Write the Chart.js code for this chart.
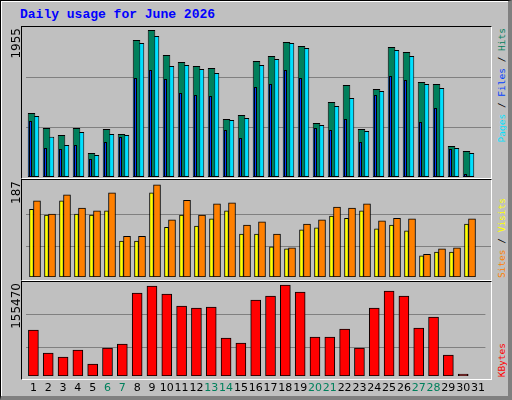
<!DOCTYPE html>
<html>
<head>
<meta charset="utf-8">
<script src="https://cdn.jsdelivr.net/npm/chart.js@4"></script>
<style>
  body { margin: 0; }
  #frame { position: relative; width: 512px; height: 400px; background: #c0c0c0; box-sizing: border-box;
           border: 1px solid #000; border-right: 4px solid #808080; border-bottom: 4px solid #808080; overflow: hidden; }
  #frame::before { content: ""; position: absolute; left: 0; top: 0; right: 0; bottom: 0; border-top: 1px solid #fff; border-left: 1px solid #fff; }
  .panel { position: absolute; left: 20px; width: 471px; box-sizing: border-box;
           border-top: 1px solid #000; border-left: 1px solid #000; border-right: 1px solid #fff; border-bottom: 1px solid #fff; }
  canvas { position: absolute; }
  .title { position: absolute; left: 19px; top: 6px; font: bold 13px "Liberation Mono", monospace; color: #0000ff; }
  .vl { position: absolute; writing-mode: vertical-rl; transform: rotate(180deg); white-space: nowrap; }
  .num { font: 12px "DejaVu Sans", sans-serif; color: #000; left: 8px; }
  .leg { font: 9.5px "DejaVu Sans Mono", monospace; left: 495px; color: #000; }
</style>
</head>
<body>
<div id="frame">
  <div class="title">Daily usage for June 2026</div>
  <div class="panel" style="top:25px;height:153px"></div>
  <div class="panel" style="top:178px;height:102px"></div>
  <div class="panel" style="top:280px;height:99px"></div>
  <canvas id="c1" width="469" height="150" style="left:21px;top:26px"></canvas>
  <canvas id="c2" width="469" height="99" style="left:21px;top:177px"></canvas>
  <canvas id="c3" width="469" height="123" style="left:21px;top:276px"></canvas>
  <div class="vl num" style="top:27px">1955</div>
  <div class="vl num" style="top:180px">187</div>
  <div class="vl num" style="top:282px">155470</div>
  <div class="vl leg" style="top:27px"><span style="color:#00e0ff">Pages</span> / <span style="color:#0040ff">Files</span> / <span style="color:#00805c">Hits</span></div>
  <div class="vl leg" style="top:197px"><span style="color:#ff8000">Sites</span> / <span style="color:#ffff00">Visits</span></div>
  <div class="vl leg" style="top:342px"><span style="color:#ff0000">KBytes</span></div>
</div>
<script>
const days = ['1','2','3','4','5','6','7','8','9','10','11','12','13','14','15','16','17','18','19','20','21','22','23','24','25','26','27','28','29','30','31'];
const weekends = ['6','7','13','14','20','21','27','28'];

const hits  = [834,639,547,639,313,626,560,1786,1916,1590,1499,1447,1421,756,808,1512,1577,1760,1707,704,978,1199,626,1147,1694,1629,1238,1212,404,339,0];
const pages = [795,525,417,587,287,560,547,1746,1838,1447,1460,1408,1356,743,769,1460,1538,1746,1681,678,925,1030,600,1121,1655,1577,1212,1160,378,313,0];
const files = [734,382,369,421,235,460,525,1290,1395,1277,1095,1069,1056,613,508,1173,1212,1395,1290,639,613,756,456,1069,1316,1264,717,899,365,39,0];

const visits = [128,117,144,119,117,125,68,68,159,94,117,96,110,125,81,81,57,53,89,93,115,111,125,91,98,87,40,47,47,100,0];
const sites  = [144,119,155,130,125,159,77,77,174,108,145,117,138,140,98,104,81,55,100,108,132,130,138,106,111,110,43,53,55,110,0];

const kbytes = [72238,36119,29838,40831,18845,43971,50253,130343,141336,128772,109929,106788,108358,59675,51823,119350,125632,142907,131914,61246,61246,73808,43971,106788,133484,125632,75379,92654,32978,3141,0];

const maxTicks = [1955, 187, 155470];
const gridTicks = [[639, 1303], [57, 119], [45541, 97364]];

function opts(max, grid, showX) {
  return {
    responsive: false, devicePixelRatio: 1, animation: false,
    layout: { padding: { left: 4, right: 0, top: 0, bottom: 0 } },
    plugins: { legend: { display: false }, tooltip: { enabled: false } },
    scales: {
      x: {
        display: showX,
        grid: { display: false, drawTicks: false }, border: { display: false },
        afterFit: s => { s.height = showX ? 24 : 0; },
        ticks: {
          padding: 6, autoSkip: false, maxRotation: 0,
          font: { family: 'DejaVu Sans', size: 11 },
          color: ctx => weekends.includes(days[ctx.index]) ? '#00805c' : '#000'
        }
      },
      y: {
        min: 0, max: max,
        afterFit: s => { s.width = 0; },
        afterBuildTicks: s => { s.ticks = grid.map(v => ({ value: v })); },
        ticks: { display: false },
        grid: { color: '#808080', lineWidth: 1, drawTicks: false },
        border: { display: false }
      }
    }
  };
}

const thinFiles = {
  id: 'thinFiles',
  afterDatasetsDraw(chart) {
    const meta = chart.getDatasetMeta(1);
    const y = chart.scales.y;
    const ctx = chart.ctx;
    ctx.save();
    meta.data.forEach((el, i) => {
      if (!files[i]) return;
      const left = el.x - el.width / 2;
      const top = Math.round(y.getPixelForValue(files[i])) + 0.5;
      const bottom = Math.round(y.getPixelForValue(0)) - 0.5;
      ctx.fillStyle = '#0040ff';
      ctx.strokeStyle = '#000';
      ctx.lineWidth = 1;
      ctx.fillRect(left - 3, top, 3, bottom - top);
      ctx.strokeRect(Math.round(left - 3) + 0.5, top, 2, bottom - top);
    });
    ctx.restore();
  }
};

const bar = { borderColor: '#000', borderWidth: 1, borderSkipped: false };

new Chart(document.getElementById('c1'), {
  type: 'bar',
  data: { labels: days, datasets: [
    Object.assign({ label: 'Hits', data: hits, backgroundColor: '#00805c', categoryPercentage: 0.53, barPercentage: 1.9 }, bar),
    Object.assign({ label: 'Pages', data: pages, backgroundColor: '#00e0ff', categoryPercentage: 0.53, barPercentage: 1.9 }, bar)
  ]},
  options: opts(maxTicks[0], gridTicks[0], false),
  plugins: [thinFiles]
});

new Chart(document.getElementById('c2'), {
  type: 'bar',
  data: { labels: days, datasets: [
    Object.assign({ label: 'Visits', data: visits, backgroundColor: '#ffff00', categoryPercentage: 0.73, barThickness: 4 }, bar),
    Object.assign({ label: 'Sites', data: sites, backgroundColor: '#ff8000', categoryPercentage: 0.73, barThickness: 7 }, bar)
  ]},
  options: opts(maxTicks[1], gridTicks[1], false)
});

new Chart(document.getElementById('c3'), {
  type: 'bar',
  data: { labels: days, datasets: [
    Object.assign({ label: 'KBytes', data: kbytes, backgroundColor: '#ff0000', barThickness: 10 }, bar)
  ]},
  options: opts(maxTicks[2], gridTicks[2], true)
});
</script>
</body>
</html>
